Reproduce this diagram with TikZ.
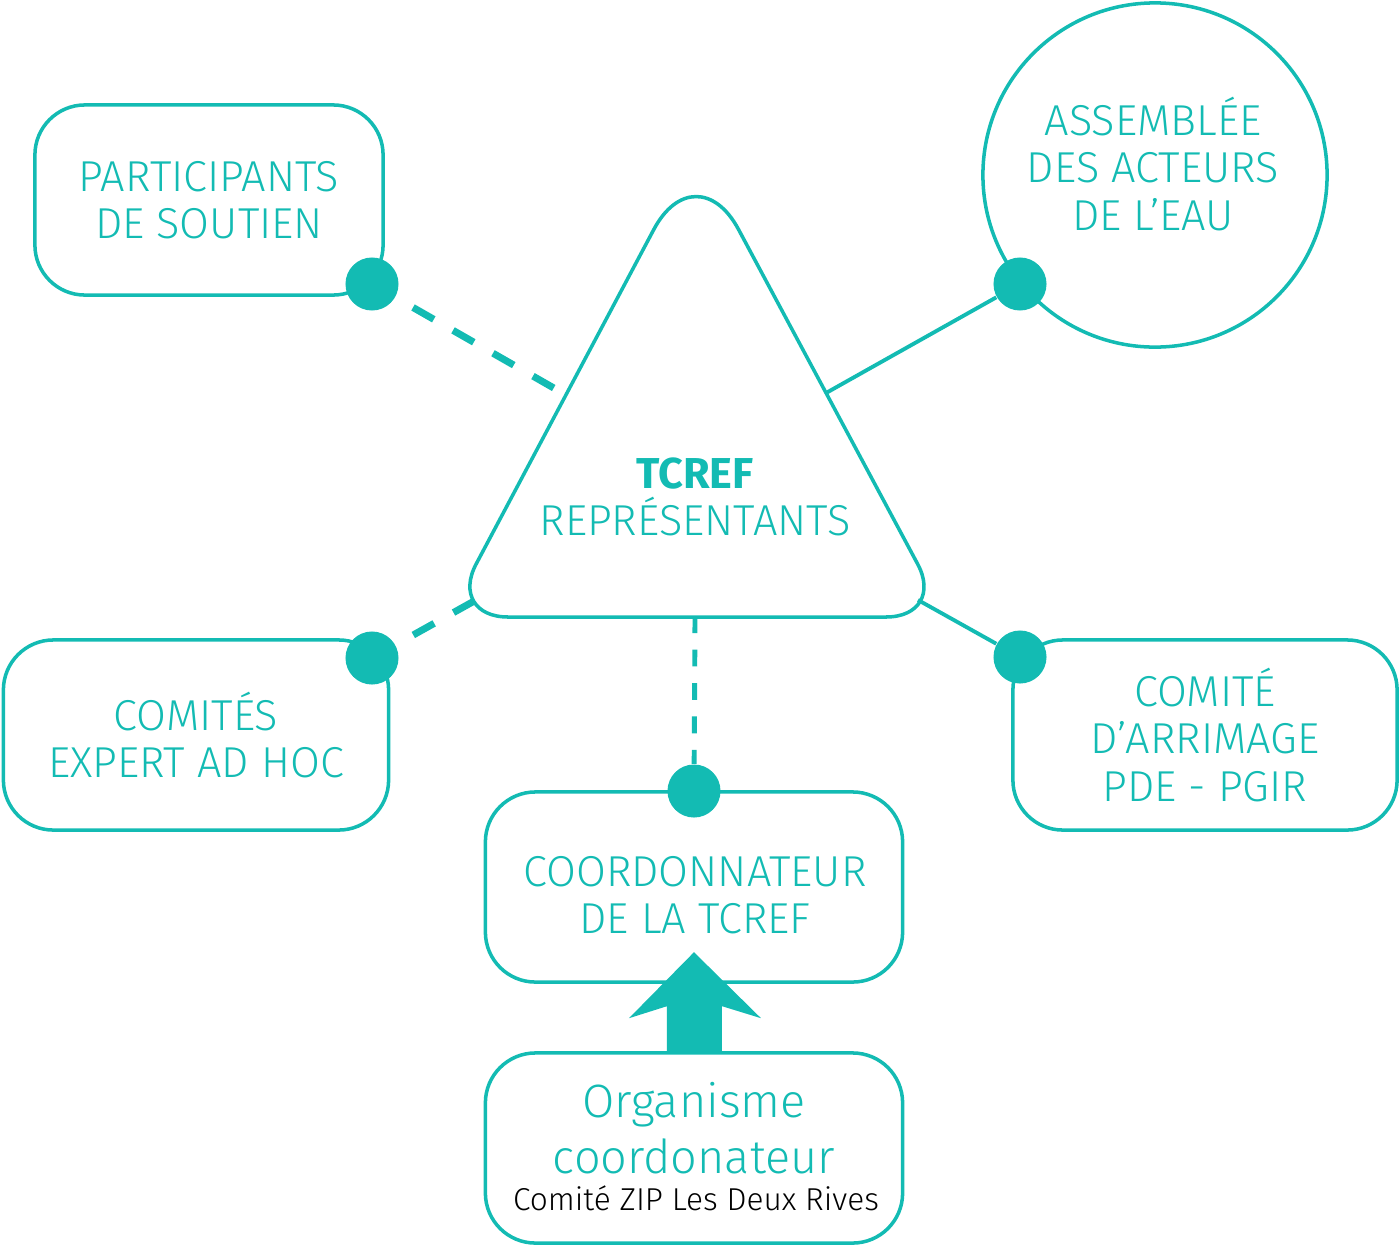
\documentclass[tikz,border=0pt]{standalone}
\usepackage{fontspec}
\IfFontExistsTF{Fira Sans Light}{\setmainfont{Fira Sans Light}[BoldFont={Fira Sans Bold}]}{\setmainfont{Fira Sans}}
\usepackage{tikz}
\usetikzlibrary{positioning}
\definecolor{tcref}{RGB}{19,187,179}
\tikzset{
	box/.style={draw=tcref, line width=1pt, rounded corners=0.5cm, minimum height=1.9cm, align=center, text=tcref, font=\fontsize{12.3}{13.4}\selectfont},
	boxtext/.style={align=center, text=tcref, font=\fontsize{12.3}{13.4}\selectfont},
	dot/.style={circle, fill=tcref, minimum size=0.53cm, inner sep=0pt},
	link/.style={draw=tcref, line width=1.1pt},
	dashlink/.style={draw=tcref, line width=2pt, dash pattern=on 6.8pt off 6.3pt, dash phase=7.4pt},
	vdashlink/.style={draw=tcref, line width=1.4pt, dash pattern=on 4.8pt off 4.7pt, dash phase=0.8pt}
}

\begin{document}
\begin{tikzpicture}[x=0.01cm, y=-0.01cm]
		\useasboundingbox (0,0) rectangle (1400,1245);
		\draw[tcref, line width=1pt] (697,617) [rounded corners=0.6cm] -- (946,617) [rounded corners=0.9cm] -- (696,150) [rounded corners=0.6cm] -- (448,617) -- cycle;
		\node[boxtext] (tcref) at (695,497) {{\bfseries TCREF}\\REPRÉSENTANTS};
		\coordinate (tul) at (566,395);
		\coordinate (tur) at (826,393);
		\coordinate (tll) at (476,600);
		\coordinate (tlr) at (918,600);
		\coordinate (tb) at (695,619);
		\node[box, minimum width=3.48cm] (soutien) at (209,200) {PARTICIPANTS\\DE SOUTIEN};
		\node[box, circle, rounded corners=0pt, minimum size=3.44cm, inner sep=0pt] (acteurs) at (1155,175) {};
		\node[boxtext] (acteurstxt) at (1153,164) {ASSEMBLÉE\\DES ACTEURS\\DE L’EAU};
		\node[box, minimum width=3.85cm] (comites) at (196,735) {COMITÉS\\EXPERT AD HOC};
		\node[box, minimum width=3.84cm] (arrimage) at (1205,735) {COMITÉ\\D’ARRIMAGE\\PDE - PGIR};
		\node[box, minimum width=4.17cm] (coord) at (694,887) {};
		\node[boxtext] (coordtxt) at (695,895) {COORDONNATEUR\\DE LA TCREF};
		\node[box, minimum width=4.17cm] (orga) at (694,1148) {};
		\node[text=tcref, align=center, font=\fontsize{13.3}{16}\selectfont] (orgatxt) at (694,1128) {Organisme\\coordonateur};
		\node[font=\fontsize{9}{10}\selectfont] (zip) at (696,1198) {Comité ZIP Les Deux Rives};
		\foreach \n/\x/\y in {d1/372/284, d2/1020/284, d3/372/658, d4/1020/657, d5/694/791}
			\node[dot] (\n) at (\x,\y) {};
		\draw[dashlink] (d1) -- (tul);
		\draw[link] (tur) -- (d2);
		\draw[dashlink] (d3) -- (tll);
		\draw[link] (tlr) -- (d4);
		\draw[vdashlink] (tb) -- (d5);
		\fill[tcref] ([xshift=-0.27cm]orga.north) -- ++(0,-45) -- ++(-38,12) -- ++(65,-66) -- ++(67,66) -- ++(-39,-12) -- ++(0,45) -- cycle;
	\end{tikzpicture}
\end{document}
